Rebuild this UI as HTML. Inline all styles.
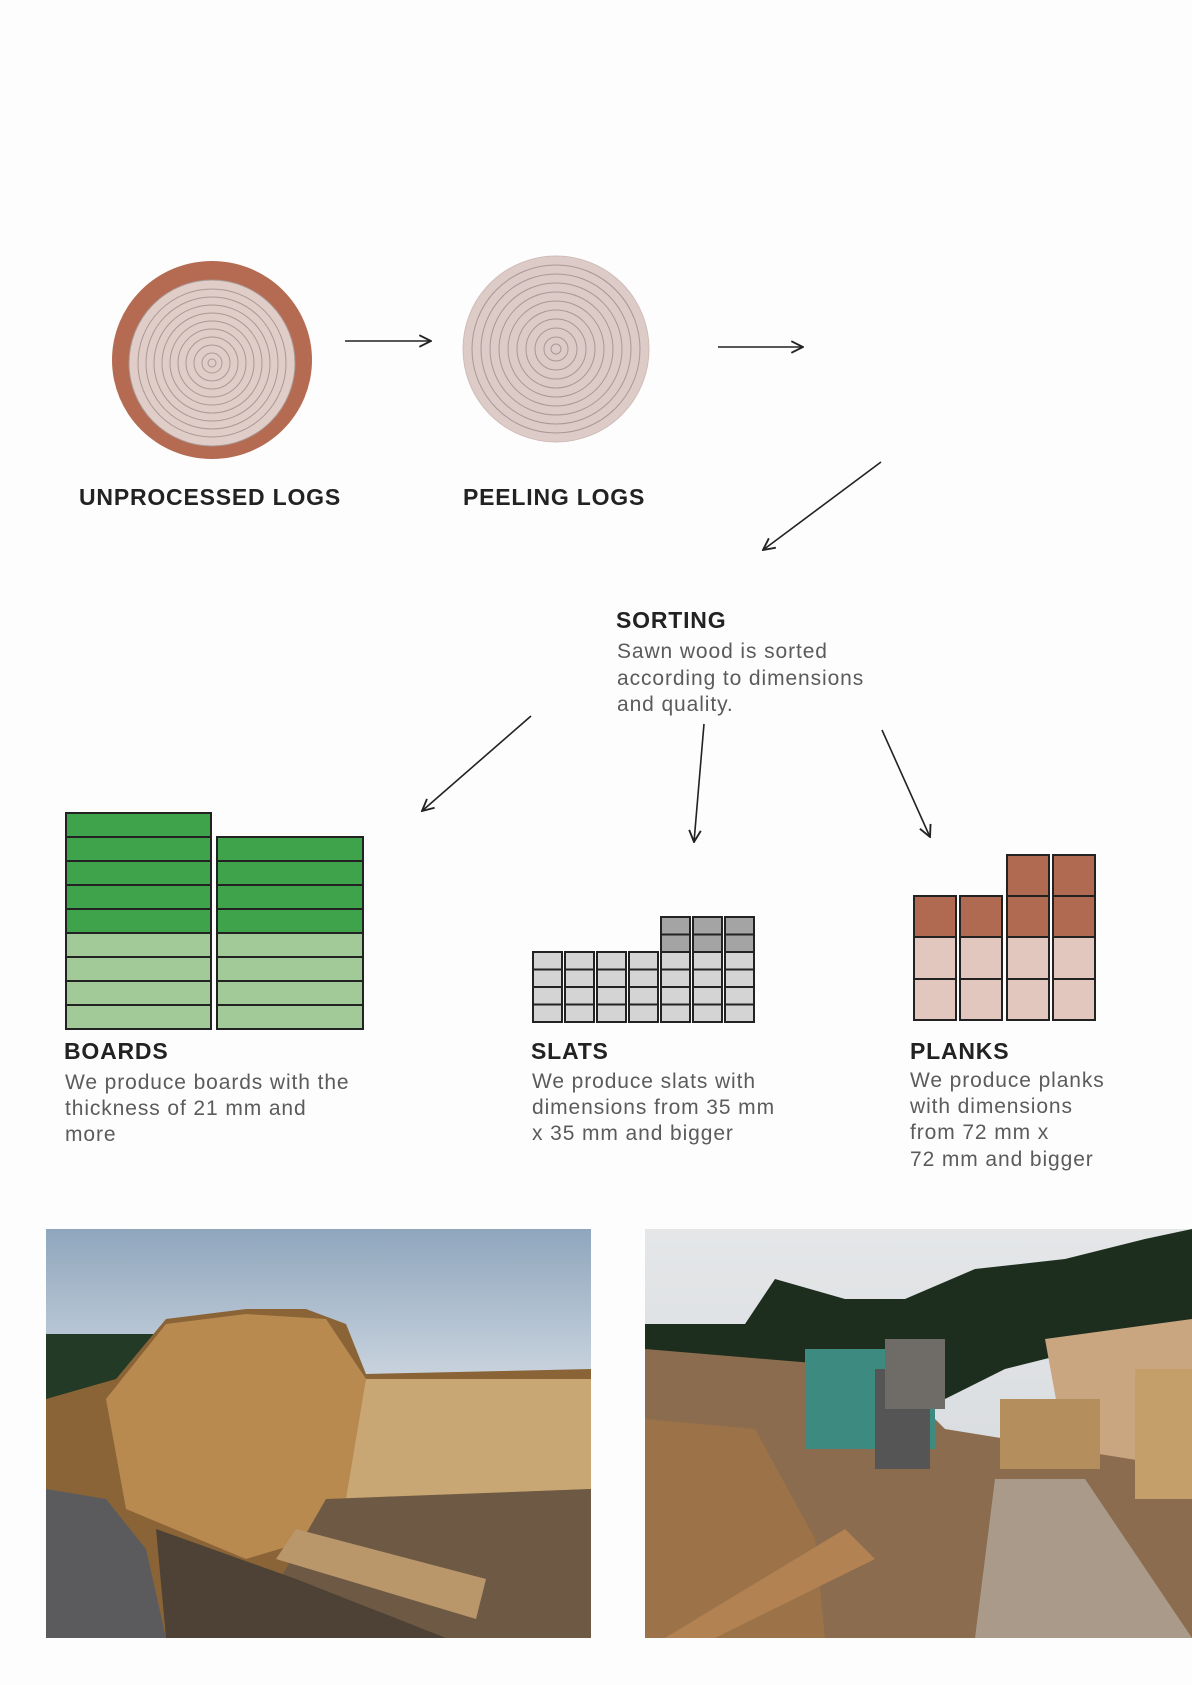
<!DOCTYPE html>
<html><head><meta charset="utf-8"><style>
html,body{margin:0;padding:0;background:#fdfdfd;}
svg{display:block}
.h{font-family:"Liberation Sans",sans-serif;font-weight:bold;font-size:23px;letter-spacing:0.8px;fill:#222;}
.b{font-family:"Liberation Sans",sans-serif;font-size:21px;letter-spacing:0.9px;fill:#5b5b5b;}
</style></head><body>
<svg width="1192" height="1685" viewBox="0 0 1192 1685" xmlns="http://www.w3.org/2000/svg">
<defs>
<marker id="a" viewBox="0 0 12 12" refX="11" refY="6" markerWidth="14" markerHeight="14" markerUnits="userSpaceOnUse" orient="auto">
<path d="M1,1 L11,6 L1,11" fill="none" stroke="#222" stroke-width="1.6"/></marker>
<linearGradient id="sky" x1="0" y1="0" x2="0" y2="1"><stop offset="0" stop-color="#8fa6bd"/><stop offset="0.5" stop-color="#dfe4ea"/><stop offset="1" stop-color="#c9cfd6"/></linearGradient>
<linearGradient id="sky2" x1="0" y1="0" x2="0" y2="1"><stop offset="0" stop-color="#e4e6e8"/><stop offset="1" stop-color="#d2d6da"/></linearGradient>
</defs>
<rect width="1192" height="1685" fill="#fdfdfd"/>
<ellipse cx="212" cy="360" rx="100" ry="99" fill="#b56b52"/>
<g fill="none" stroke="#a89896" stroke-width="1">
<circle cx="212" cy="363" r="83" fill="#e0cdc8"/>
<circle cx="212" cy="363" r="74"/><circle cx="212" cy="363" r="66"/><circle cx="212" cy="363" r="58"/><circle cx="212" cy="363" r="50"/><circle cx="212" cy="363" r="42"/><circle cx="212" cy="363" r="34"/><circle cx="212" cy="363" r="26"/><circle cx="212" cy="363" r="18"/><circle cx="212" cy="363" r="10"/><circle cx="212" cy="363" r="4"/>
</g>
<g fill="none" stroke="#a89896" stroke-width="1">
<circle cx="556" cy="349" r="93" fill="#ddcbc7" stroke="#d0bcb8"/>
<circle cx="556" cy="349" r="84"/><circle cx="556" cy="349" r="75"/><circle cx="556" cy="349" r="66"/><circle cx="556" cy="349" r="57"/><circle cx="556" cy="349" r="48"/><circle cx="556" cy="349" r="39"/><circle cx="556" cy="349" r="30"/><circle cx="556" cy="349" r="21"/><circle cx="556" cy="349" r="12"/><circle cx="556" cy="349" r="5"/>
</g>
<g stroke="#222" stroke-width="1.6" fill="none" marker-end="url(#a)">
<line x1="345" y1="341" x2="431" y2="341"/>
<line x1="718" y1="347" x2="803" y2="347"/>
<line x1="881" y1="462" x2="763" y2="550"/>
<line x1="531" y1="716" x2="422" y2="811"/>
<line x1="704" y1="724" x2="694" y2="842"/>
<line x1="882" y1="730" x2="930" y2="837"/>
</g>
<text class="h" x="79" y="505">UNPROCESSED LOGS</text>
<text class="h" x="463" y="505">PEELING LOGS</text>
<text class="h" x="616" y="628">SORTING</text>
<text class="b" x="617" y="658">Sawn wood is sorted</text>
<text class="b" x="617" y="685">according to dimensions</text>
<text class="b" x="617" y="711">and quality.</text>
<g stroke="#222" stroke-width="2">
<rect x="66" y="813" width="145" height="24" fill="#3ea34a"/><rect x="66" y="837" width="145" height="24" fill="#3ea34a"/><rect x="66" y="861" width="145" height="24" fill="#3ea34a"/><rect x="66" y="885" width="145" height="24" fill="#3ea34a"/><rect x="66" y="909" width="145" height="24" fill="#3ea34a"/>
<rect x="66" y="933" width="145" height="24" fill="#a2c998"/><rect x="66" y="957" width="145" height="24" fill="#a2c998"/><rect x="66" y="981" width="145" height="24" fill="#a2c998"/><rect x="66" y="1005" width="145" height="24" fill="#a2c998"/>
<rect x="217" y="837" width="146" height="24" fill="#3ea34a"/><rect x="217" y="861" width="146" height="24" fill="#3ea34a"/><rect x="217" y="885" width="146" height="24" fill="#3ea34a"/><rect x="217" y="909" width="146" height="24" fill="#3ea34a"/>
<rect x="217" y="933" width="146" height="24" fill="#a2c998"/><rect x="217" y="957" width="146" height="24" fill="#a2c998"/><rect x="217" y="981" width="146" height="24" fill="#a2c998"/><rect x="217" y="1005" width="146" height="24" fill="#a2c998"/>
</g>
<g stroke="#222" stroke-width="2" fill="#d4d4d4">
<g id="sc"><rect x="533" y="952" width="29" height="17.5"/><rect x="533" y="969.5" width="29" height="17.5"/><rect x="533" y="987" width="29" height="17.5"/><rect x="533" y="1004.5" width="29" height="17.5"/></g>
<use href="#sc" x="32"/><use href="#sc" x="64"/><use href="#sc" x="96"/>
<g id="tc"><use href="#sc" x="128"/><rect x="661" y="917" width="29" height="17.5" fill="#a4a4a4"/><rect x="661" y="934.5" width="29" height="17.5" fill="#a4a4a4"/></g>
<use href="#tc" x="32"/><use href="#tc" x="64"/>
</g>
<g stroke="#222" stroke-width="2">
<rect x="914" y="896" width="42" height="41" fill="#b06a52"/><rect x="914" y="937" width="42" height="42" fill="#e1c7bd"/><rect x="914" y="979" width="42" height="41" fill="#e1c7bd"/>
<rect x="960" y="896" width="42" height="41" fill="#b06a52"/><rect x="960" y="937" width="42" height="42" fill="#e1c7bd"/><rect x="960" y="979" width="42" height="41" fill="#e1c7bd"/>
<rect x="1007" y="855" width="42" height="41" fill="#b06a52"/><rect x="1007" y="896" width="42" height="41" fill="#b06a52"/><rect x="1007" y="937" width="42" height="42" fill="#e1c7bd"/><rect x="1007" y="979" width="42" height="41" fill="#e1c7bd"/>
<rect x="1053" y="855" width="42" height="41" fill="#b06a52"/><rect x="1053" y="896" width="42" height="41" fill="#b06a52"/><rect x="1053" y="937" width="42" height="42" fill="#e1c7bd"/><rect x="1053" y="979" width="42" height="41" fill="#e1c7bd"/>
</g>
<text class="h" x="64" y="1059">BOARDS</text>
<text class="b" x="65" y="1089">We produce boards with the</text>
<text class="b" x="65" y="1115">thickness of 21 mm and</text>
<text class="b" x="65" y="1141">more</text>
<text class="h" x="531" y="1059">SLATS</text>
<text class="b" x="532" y="1088">We produce slats with</text>
<text class="b" x="532" y="1114">dimensions from 35 mm</text>
<text class="b" x="532" y="1140">x 35 mm and bigger</text>
<text class="h" x="910" y="1059">PLANKS</text>
<text class="b" x="910" y="1087">We produce planks</text>
<text class="b" x="910" y="1113">with dimensions</text>
<text class="b" x="910" y="1139">from 72 mm x</text>
<text class="b" x="910" y="1166">72 mm and bigger</text>
<svg x="46" y="1229" width="545" height="409" viewBox="0 0 545 409">
<rect width="545" height="409" fill="url(#sky)"/>
<rect x="0" y="105" width="120" height="80" fill="#223a26"/>
<path d="M0,170 L70,150 L120,90 L200,80 L260,80 L300,95 L320,145 L545,140 L545,409 L0,409Z" fill="#8a6437"/>
<path d="M60,170 L120,95 L200,85 L280,90 L320,150 L300,300 L200,330 L80,280Z" fill="#b88a4f"/>
<path d="M320,150 L545,150 L545,260 L300,270Z" fill="#c9a774"/>
<path d="M280,270 L545,260 L545,409 L200,409Z" fill="#6e5a44"/>
<path d="M230,330 L430,390 L440,350 L250,300Z" fill="#b9976b"/>
<path d="M0,260 L60,270 L100,320 L120,409 L0,409Z" fill="#5b5b5d"/>
<path d="M110,300 L250,350 L400,409 L120,409Z" fill="#4e4236"/>
</svg>
<svg x="645" y="1229" width="547" height="409" viewBox="0 0 547 409">
<rect width="547" height="409" fill="url(#sky2)"/>
<path d="M0,95 L100,95 L130,50 L200,70 L260,70 L330,40 L420,30 L500,10 L547,0 L547,110 L440,120 L360,140 L300,170 L0,140Z" fill="#1d2e1f"/>
<path d="M400,110 L547,90 L547,240 L480,250 L420,220Z" fill="#c9a580"/>
<path d="M0,120 L240,140 L300,200 L547,240 L547,409 L0,409Z" fill="#8b6c4e"/>
<rect x="160" y="120" width="130" height="100" fill="#3c8a80"/>
<rect x="230" y="140" width="55" height="100" fill="#555"/>
<path d="M0,190 L110,200 L170,310 L180,409 L0,409Z" fill="#9c7349"/>
<path d="M350,250 L440,250 L547,409 L330,409Z" fill="#a99a8a"/>
<path d="M20,409 L200,300 L230,330 L70,409Z" fill="#b38252"/>
<rect x="240" y="110" width="60" height="70" fill="#6f6b66"/>
<rect x="355" y="170" width="100" height="70" fill="#b58e5e"/>
<rect x="490" y="140" width="57" height="130" fill="#c59f6a"/>
</svg>
</svg>
</body></html>
